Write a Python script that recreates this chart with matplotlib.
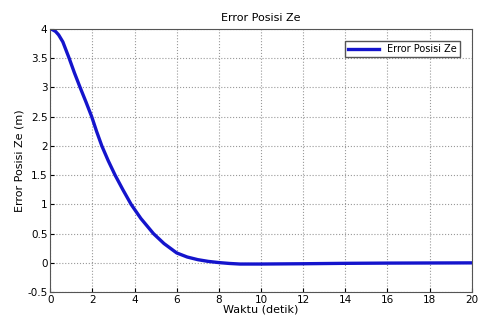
import matplotlib
matplotlib.use('Agg')
import matplotlib.pyplot as plt

# curve
waktu = [0, 0.1, 0.25, 0.4, 0.6, 0.9, 1.15, 1.42, 1.7, 1.97, 2.2, 2.45, 2.75, 3.08, 3.45, 3.84, 4.3, 4.9, 5.4,
         6, 6.5, 7, 7.5, 8, 8.5, 9, 10, 12, 14, 16, 18, 20]
error_ze = [4.0, 3.99, 3.96, 3.9, 3.78, 3.5, 3.25, 3.0, 2.75, 2.5, 2.25, 2.0, 1.75, 1.5, 1.25, 1.0, 0.76, 0.5,
            0.33, 0.17, 0.1, 0.055, 0.025, 0.005, -0.01, -0.02, -0.02, -0.015, -0.008, -0.004, -0.002, 0.0]

x_ticks = [0, 2, 4, 6, 8, 10, 12, 14, 16, 18, 20]
y_ticks = [-0.5, 0, 0.5, 1, 1.5, 2, 2.5, 3, 3.5, 4]

plt.rcParams['font.family'] = ['DejaVu Sans']
fig = plt.figure(figsize=(4.78, 3.26), dpi=100)
ax = fig.add_axes([0.105, 0.104, 0.882, 0.807])

ax.plot(waktu, error_ze, color='#1414cc', linewidth=2.4, label='Error Posisi Ze',
        solid_joinstyle='round')
ax.set_xlim(0, 20)
ax.set_ylim(-0.5, 4)
ax.set_xticks(x_ticks)
ax.set_yticks(y_ticks)
ax.set_yticklabels(['-0.5', '0', '0.5', '1', '1.5', '2', '2.5', '3', '3.5', '4'])
ax.tick_params(direction='in', labelsize=7.5, length=3, pad=2)
ax.grid(True, linestyle=':', color='#999999', linewidth=0.8)
for s in ax.spines.values():
    s.set_color('#555555')

ax.set_title('Error Posisi Ze', fontsize=8, pad=6)
ax.set_xlabel('Waktu (detik)', fontsize=8, labelpad=0)
ax.set_ylabel('Error Posisi Ze (m)', fontsize=8, labelpad=2)
leg = ax.legend(loc='upper right', fontsize=7, fancybox=False, handlelength=3.2,
                borderaxespad=1.2, framealpha=1, borderpad=0.35)
leg.get_frame().set_edgecolor('#555555')

plt.savefig('out.png', dpi=100)
